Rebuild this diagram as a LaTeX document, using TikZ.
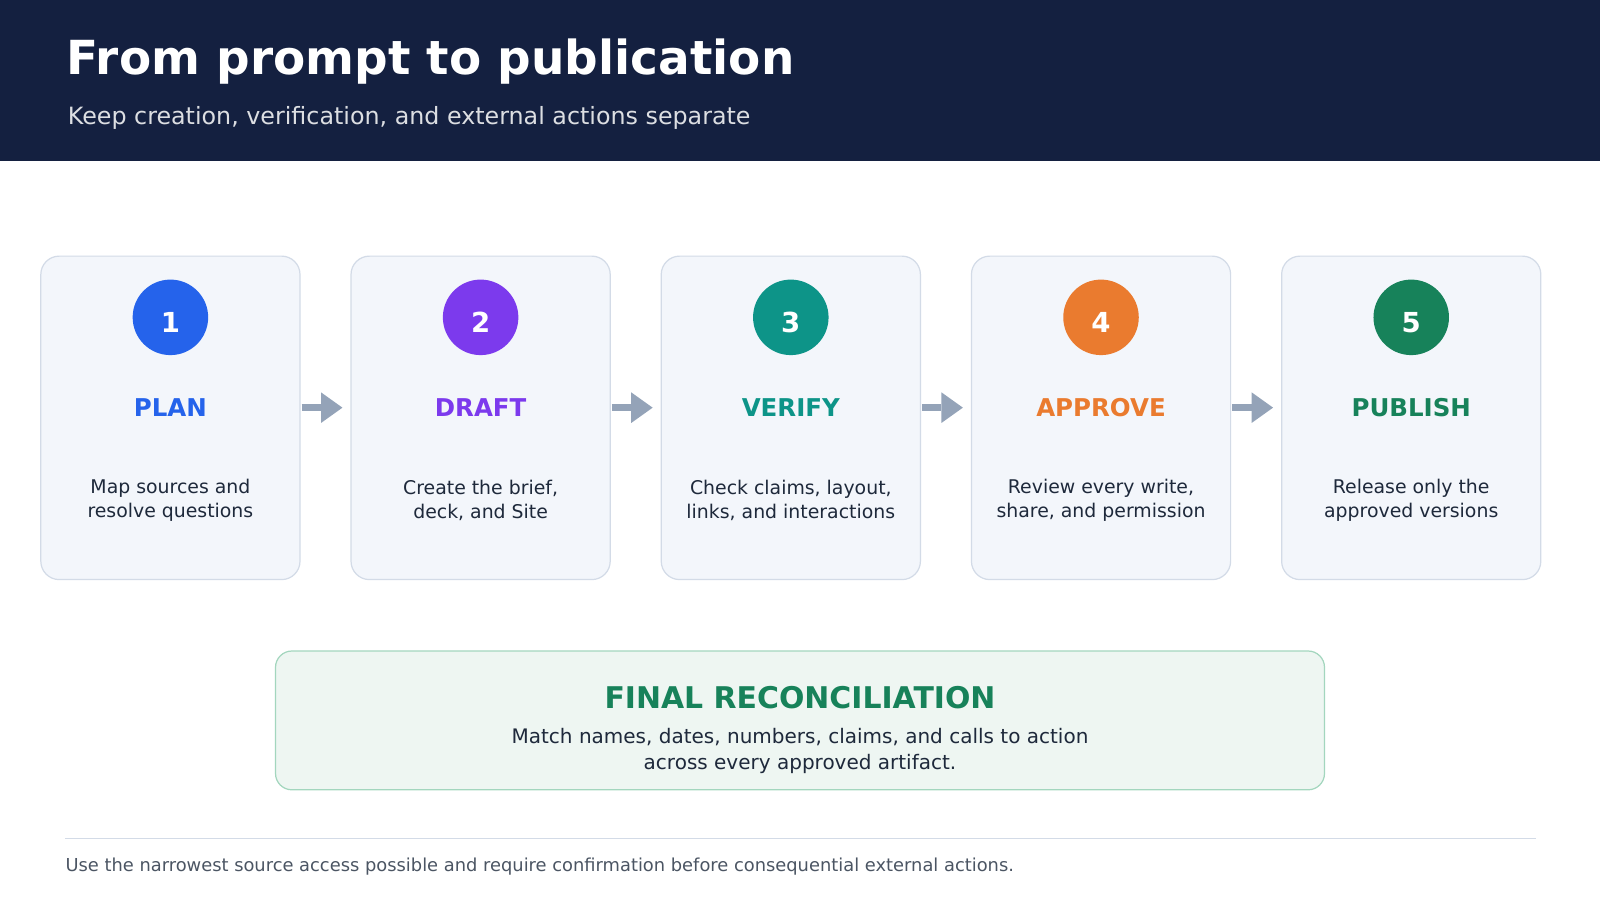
\documentclass[tikz,border=0pt]{standalone}
\usepackage{fontspec}
\setmainfont{DejaVu Sans}
\usetikzlibrary{positioning}
\definecolor{navy}{HTML}{142040}
\definecolor{cardfill}{HTML}{F3F6FB}
\definecolor{cardline}{HTML}{D3DBE7}
\definecolor{cblue}{HTML}{2563EB}
\definecolor{cpurple}{HTML}{7C3AED}
\definecolor{cteal}{HTML}{0D9488}
\definecolor{corange}{HTML}{EA7B2F}
\definecolor{cgreen}{HTML}{17825A}
\definecolor{finfill}{HTML}{EEF6F2}
\definecolor{finline}{HTML}{A3D6BE}
\definecolor{arrowc}{HTML}{94A3B8}
\definecolor{ink}{HTML}{1E293B}
\definecolor{muted}{HTML}{4B5563}
\tikzset{
  card/.style={draw=cardline, line width=1.2pt, fill=cardfill, rounded corners=18pt,
    minimum width=254pt, minimum height=317pt, inner sep=0pt},
  badge/.style={circle, fill=#1, minimum size=74pt, inner sep=0pt, text=white,
    font=\fontsize{27}{27}\selectfont\bfseries},
  step/.style={text=#1, font=\fontsize{24}{24}\selectfont\bfseries},
  body/.style={text=ink, align=center, font=\fontsize{18.5}{23.5}\selectfont},
  flow/.style={arrowc, line width=7pt},
}
\begin{document}
\begin{tikzpicture}[x=1pt,y=-1pt]
  \useasboundingbox (0,0) rectangle (1568,882);
  \fill[navy] (0,0) rectangle (1568,158);
  \node[anchor=west, text=white, font=\fontsize{46}{46}\selectfont\bfseries] (title) at (62,60) {From prompt to publication};
  \node[anchor=west, text=white!85!navy, font=\fontsize{23.3}{23.3}\selectfont] (subtitle) at (63,116) {Keep creation, verification, and external actions separate};
  % cards
  \foreach \i/\col/\lab/\la/\lb in {
      1/cblue/PLAN/Map sources and/resolve questions,
      2/cpurple/DRAFT/{Create the brief,}/{deck, and Site},
      3/cteal/VERIFY/{Check claims, layout,}/{links, and interactions},
      4/corange/APPROVE/{Review every write,}/{share, and permission},
      5/cgreen/PUBLISH/Release only the/approved versions} {
    \pgfmathsetmacro{\cx}{167+304*(\i-1)}
    \node[card] (card\i) at (\cx,409.5) {};
    \node[badge=\col] (badge\i) at (\cx,311) {};
    \node[text=white, font=\fontsize{27}{27}\selectfont\bfseries] (num\i) at (\cx,316) {\i};
    \node[step=\col] (step\i) at (\cx,399) {\lab};
    \node[body] (body\i) at (\cx,490) {\la\\\lb};
  }
  % arrows
  \foreach \i in {1,...,4} {
    \coordinate (tail\i) at ([xshift=1pt,yshift=10pt]card\i.east);
    \coordinate (head\i) at ([xshift=19pt]tail\i);
    \draw[flow] (tail\i) -- (head\i);
    \fill[arrowc] ([yshift=-15pt]head\i) -- ([xshift=21pt]head\i) -- ([yshift=15pt]head\i) -- cycle;
  }
  % final box
  \node[draw=finline, line width=1.2pt, fill=finfill, rounded corners=16pt,
    minimum width=1028pt, minimum height=136pt] (final) at (784,706) {};
  \node[text=cgreen, font=\fontsize{29.3}{29.3}\selectfont\bfseries] (finaltitle) at (784,684) {FINAL RECONCILIATION};
  \node[body, font=\fontsize{19.6}{25}\selectfont] (finaltext) at (784,736) {Match names, dates, numbers, claims, and calls to action\\across every approved artifact.};
  % footer
  \draw[cardline, line width=1pt] (64,822) -- (1505,822);
  \node[anchor=west, text=muted, font=\fontsize{17.5}{17.5}\selectfont, inner sep=0pt] (footer) at (64,849) {Use the narrowest source access possible and require confirmation before consequential external actions.};
\end{tikzpicture}
\end{document}
